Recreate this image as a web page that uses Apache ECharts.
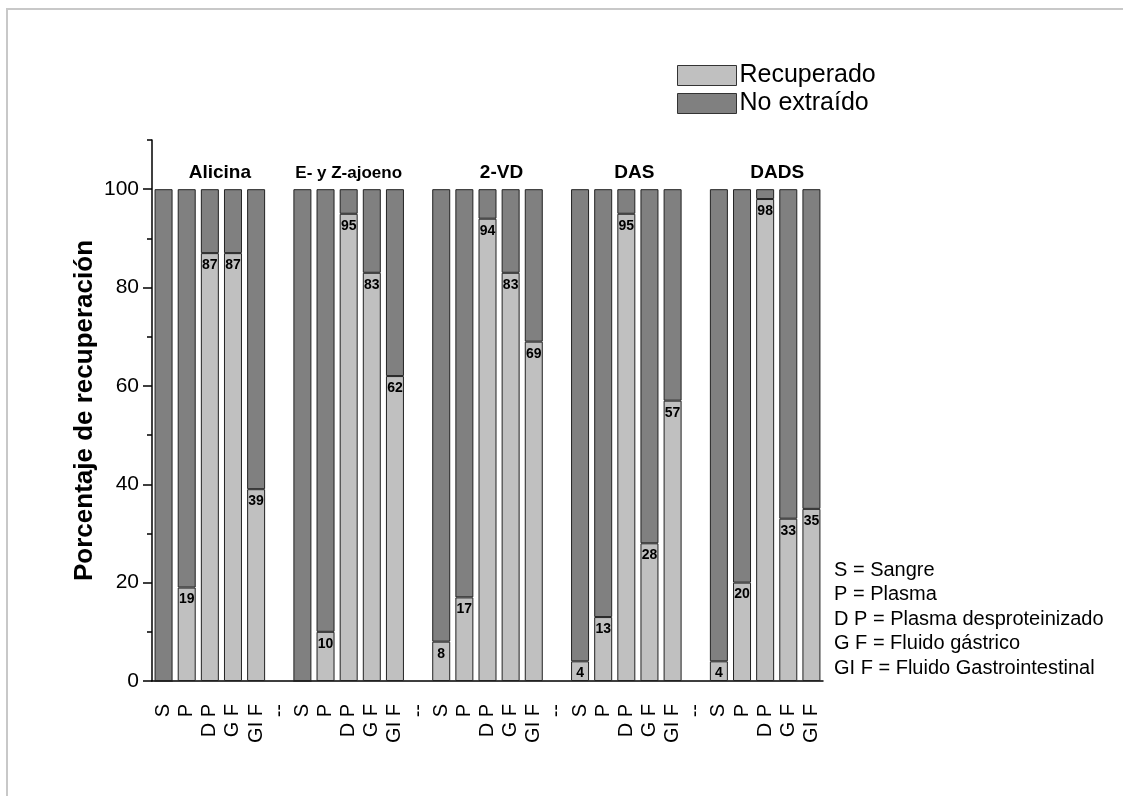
<!DOCTYPE html>
<html>
<head>
<meta charset="utf-8">
<script src="https://cdn.jsdelivr.net/npm/echarts@6/dist/echarts.min.js"></script>
<style>html,body{margin:0;padding:0;background:#fff}#c{width:1123px;height:796px}</style>
</head>
<body>
<div id="c"></div>
<script>
const categories = ['S','P','D P','G F','GI F','--','S','P','D P','G F','GI F','--','S','P','D P','G F','GI F','--','S','P','D P','G F','GI F','--','S','P','D P','G F','GI F'];
const recuperado = [0,19,87,87,39,null,0,10,95,83,62,null,8,17,94,83,69,null,4,13,95,28,57,null,4,20,98,33,35];
const noExtraido = [100,81,13,13,61,null,100,90,5,17,38,null,92,83,6,17,31,null,96,87,5,72,43,null,96,80,2,67,65];
const groupNames = ['Alicina','E- y Z-ajoeno','2-VD','DAS','DADS'];
const groupCenterIndex = [2,8,14,20,26];
const yMajorTicks = [0,20,40,60,80,100];
const yMinorTicks = [10,30,50,70,90,110];
const yAxisTitle = 'Porcentaje de recuperación';
const notes = ['S = Sangre','P = Plasma','D P = Plasma desproteinizado','G F = Fluido gástrico','GI F = Fluido Gastrointestinal'];

const FONT = '"Liberation Sans", Arial, sans-serif';
const chart = echarts.init(document.getElementById('c'), null, {renderer:'canvas'});
const option = {
  backgroundColor:'#fff',
  animation:false,
  textStyle:{fontFamily:FONT},
  grid:{left:152, right:300, top:140, bottom:115},
  legend:{
    orient:'vertical', left:672, top:58, itemWidth:59, itemHeight:20, itemGap:3,
    icon:'rect',
    textStyle:{fontSize:25, color:'#000', fontFamily:FONT, padding:[0,0,0,-2]},
    itemStyle:{borderColor:'#333', borderWidth:1},
    data:['Recuperado','No extraído']
  },
  xAxis:[{
    type:'category', data:categories, position:'bottom',
    axisLine:{lineStyle:{color:'#000', width:1.5}},
    axisTick:{alignWithLabel:true, interval:0, length:10, lineStyle:{color:'#000', width:1.5}},
    axisLabel:{interval:0, rotate:90, margin:23, fontSize:20, color:'#000', fontFamily:FONT}
  },{
    type:'category', data:categories, position:'bottom',
    axisLine:{show:false},
    axisTick:{interval:0, length:5, lineStyle:{color:'#000', width:1.5}},
    axisLabel:{show:false}
  }],
  yAxis:[{
    type:'value', min:0, max:110, interval:20,
    axisLine:{show:true, lineStyle:{color:'#000', width:1.5}},
    axisTick:{show:true, length:9, customValues:yMajorTicks, lineStyle:{color:'#000', width:1.5}},
    axisLabel:{customValues:yMajorTicks, fontSize:21, color:'#000', margin:13, fontFamily:FONT},
    splitLine:{show:false}
  },{
    type:'value', min:0, max:110, interval:10, position:'left',
    axisLine:{show:false},
    axisTick:{show:true, length:5, customValues:yMinorTicks, lineStyle:{color:'#000', width:1.5}},
    axisLabel:{show:false},
    splitLine:{show:false}
  }],
  series:[{
    name:'Recuperado', type:'bar', stack:'a', data:recuperado, barWidth:18,
    itemStyle:{color:'#c0c0c0', borderColor:'#222', borderWidth:1},
    label:{show:true, position:'insideTop', distance:5, fontSize:14, fontWeight:'bold', color:'#000',
      formatter:p=> (p.value ? String(p.value) : '')}
  },{
    name:'No extraído', type:'bar', stack:'a', data:noExtraido, barWidth:18,
    itemStyle:{color:'#808080', borderColor:'#222', borderWidth:1}
  }]
};
chart.setOption(option);

const titleOffsets = [10,0,14,8,12];
const titleSizes = [19,17,19,19,19];
const graphics = [];
groupNames.forEach((g,i)=>{
  const x = chart.convertToPixel({xAxisIndex:0}, groupCenterIndex[i]) + titleOffsets[i];
  graphics.push({type:'text', x:x, y:173, style:{text:g, font: 'bold '+titleSizes[i]+'px '+FONT, fill:'#000', textAlign:'center', textVerticalAlign:'middle'}});
});
const yMid = (chart.convertToPixel({yAxisIndex:0}, 0) + chart.convertToPixel({yAxisIndex:0}, 110)) / 2;
graphics.push({type:'text', x:85, y:yMid, rotation:Math.PI/2, style:{text:yAxisTitle, font:'bold 26px '+FONT, fill:'#000', textAlign:'center', textVerticalAlign:'middle'}});
graphics.push({type:'text', left:834, top:558, style:{text:notes.join('\n'), font:'20px '+FONT, fill:'#000', lineHeight:24.5}});
graphics.push({type:'polyline', shape:{points:[[7,800],[7,9],[1130,9]]}, style:{stroke:'#c8c8c8', lineWidth:2, fill:null}});
chart.setOption({graphic:graphics});
</script>
</body>
</html>
